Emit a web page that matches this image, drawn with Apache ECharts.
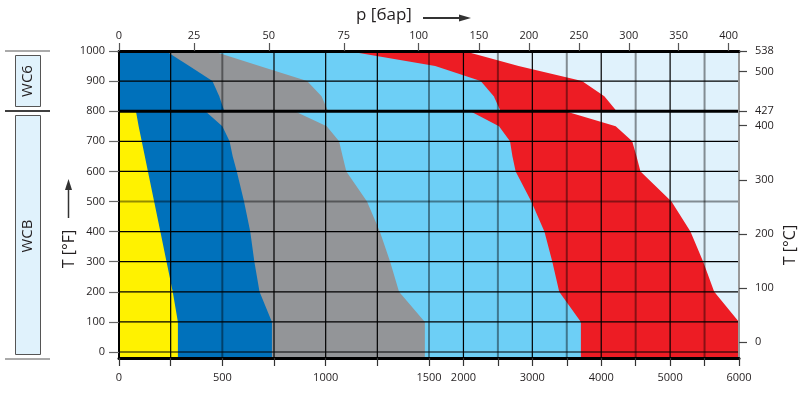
<!DOCTYPE html>
<html><head><meta charset="utf-8">
<script src="https://cdn.jsdelivr.net/npm/echarts@6/dist/echarts.min.js"></script>
<style>html,body{margin:0;padding:0;background:#fff}#c{width:809px;height:395px}</style>
</head><body><div id="c"></div>
<script>
// ---- data (pressure boundaries in psi vs temperature in °F) ----
const tWCB   = [-20, 100, 200, 300, 400, 500, 600, 650, 700, 750, 800];
const wcb150  = [285, 285, 260, 230, 200, 170, 140, 125, 110, 95, 82];
const wcb300  = [740, 740, 680, 655, 635, 605, 570, 550, 535, 500, 418];
const wcb600  = [1480, 1480, 1355, 1312, 1262, 1200, 1100, 1082, 1065, 1005, 850];
const wcb1500 = [3705, 3705, 3390, 3290, 3175, 2985, 2758, 2711, 2676, 2516, 2100];
const wcb2500 = [6000, 6000, 5640, 5480, 5295, 5020, 4570, 4512, 4450, 4210, 3480];

const tWC6   = [800, 850, 900, 950, 1000];
const wc6300  = [510, 485, 452, 340, 226];
const wc6600  = [1012, 980, 910, 680, 452];
const wc61500 = [2540, 2440, 2250, 1590, 1105];
const wc62500 = [4225, 4045, 3720, 2800, 2005];

// ---- tick labels ----
const psiLabels = [0, 500, 1000, 1500, 2000, 3000, 4000, 5000, 6000];
const psiTicks  = [0, 250, 500, 750, 1000, 1250, 1500, 2000, 2500, 3000, 3500, 4000, 4500, 5000, 5500, 6000];
const barLabels = [0, 25, 50, 75, 100, 150, 200, 250, 300, 350, 400];
const fLabels   = [0, 100, 200, 300, 400, 500, 600, 700, 800, 900, 1000];
const cLabels   = [0, 100, 200, 300, 400, 427, 500, 538];

// grid line values
const vGridBlack = [250, 750, 1000, 1250, 2000, 3000, 4000, 5000];
const vGridGray  = [500, 1500, 2500, 3500, 4500, 5500];
const hGridBlack = [0, 100, 200, 300, 400, 600, 700, 900];
const hGridGray  = [500];
const hGridThick = [800];

const T_MIN = -20, T_MAX = 1000;

// broken pressure scale: 0-1500 psi full scale, 1500-6000 psi at one third
function psiToU(p){ return p <= 1500 ? p : 1500 + (p - 1500) / 3; }
function uToPsi(u){ return u <= 1500 ? u : 1500 + (u - 1500) * 3; }
function barToU(b){ return b <= 100 ? b * 14.5 : 1500 + (b - 100) * 14.5 / 3; }
function uToBar(u){ return u <= 1500 ? u / 14.5 : 100 + (u - 1500) * 3 / 14.5; }
function cToF(c){ return Math.min(c * 1.8 + 32, T_MAX); }

const FONT = 'Open Sans';
const COL = {yellow:'#FFF200', blue:'#0071BB', gray:'#939598', lblue:'#6DCFF6', red:'#ED1C24', bg:'#E0F2FC'};

function areaSeries(temps, edge, color){
  return {
    type:'custom', coordinateSystem:'cartesian2d', xAxisIndex:0, yAxisIndex:0,
    silent:true, z:2, data:[[0, temps[0]]],
    renderItem: function(params, api){
      const pts = [api.coord([0, temps[0]])];
      for (let i = 0; i < temps.length; i++) pts.push(api.coord([psiToU(edge[i]), temps[i]]));
      pts.push(api.coord([0, temps[temps.length - 1]]));
      return {type:'polygon', shape:{points:pts}, style:{fill:color}};
    }
  };
}

const gridSeries = {
  type:'custom', coordinateSystem:'cartesian2d', xAxisIndex:0, yAxisIndex:0,
  silent:true, z:3, data:[[0, 0]],
  renderItem: function(params, api){
    const ch = [];
    const yTop = api.coord([0, T_MAX])[1], yBot = api.coord([0, T_MIN])[1];
    const xL = api.coord([0, 0])[0], xR = api.coord([psiToU(6000), 0])[0];
    vGridBlack.forEach(function(p){ const x = api.coord([psiToU(p), 0])[0];
      ch.push({type:'line', shape:{x1:x, y1:yTop, x2:x, y2:yBot}, style:{stroke:'#000', lineWidth:1.2}}); });
    vGridGray.forEach(function(p){ const x = api.coord([psiToU(p), 0])[0];
      ch.push({type:'line', shape:{x1:x, y1:yTop, x2:x, y2:yBot}, style:{stroke:'rgba(0,0,0,0.42)', lineWidth:2}}); });
    hGridBlack.forEach(function(t){ const y = api.coord([0, t])[1];
      ch.push({type:'line', shape:{x1:xL, y1:y, x2:xR, y2:y}, style:{stroke:'#000', lineWidth:1.2}}); });
    hGridGray.forEach(function(t){ const y = api.coord([0, t])[1];
      ch.push({type:'line', shape:{x1:xL, y1:y, x2:xR, y2:y}, style:{stroke:'rgba(0,0,0,0.42)', lineWidth:2}}); });
    hGridThick.forEach(function(t){ const y = api.coord([0, t])[1];
      ch.push({type:'line', shape:{x1:xL, y1:y, x2:xR, y2:y}, style:{stroke:'#000', lineWidth:3}}); });
    return {type:'group', children:ch};
  }
};

const labelStyle = {fontFamily:FONT, fontSize:11, color:'#231F20'};

const option = {
  animation:false,
  grid:{left:119, right:70, top:51, bottom:37, show:true, backgroundColor:COL.bg, borderWidth:0},
  xAxis:[
    {type:'value', position:'bottom', min:0, max:psiToU(6000), z:10,
     axisLine:{show:true, onZero:false, lineStyle:{color:'#000', width:3}},
     axisTick:{show:true, length:8, customValues:psiTicks.map(psiToU), lineStyle:{color:'#333', width:1.2}},
     axisLabel:Object.assign({customValues:psiLabels.map(psiToU), margin:14,
       formatter:function(v){ return String(Math.round(uToPsi(v))); }}, labelStyle),
     splitLine:{show:false}},
    {type:'value', position:'top', min:0, max:psiToU(6000), z:10,
     axisLine:{show:true, onZero:false, lineStyle:{color:'#000', width:3}},
     axisTick:{show:true, length:8, customValues:barLabels.map(barToU), lineStyle:{color:'#555', width:1.2}},
     axisLabel:Object.assign({customValues:barLabels.map(barToU), margin:10,
       formatter:function(v){ return String(Math.round(uToBar(v))); }}, labelStyle),
     splitLine:{show:false}}
  ],
  yAxis:[
    {type:'value', position:'left', min:T_MIN, max:T_MAX, z:10,
     axisLine:{show:true, onZero:false, lineStyle:{color:'#000', width:2}},
     axisTick:{show:true, length:10, customValues:fLabels, lineStyle:{color:'#666', width:1.2}},
     axisLabel:Object.assign({customValues:fLabels, margin:14,
       formatter:function(v){ return String(Math.round(v)); }}, labelStyle),
     splitLine:{show:false}},
    {type:'value', position:'right', min:T_MIN, max:T_MAX, z:10,
     axisLine:{show:true, onZero:false, lineStyle:{color:'#999', width:2}},
     axisTick:{show:true, length:8, customValues:cLabels.map(cToF), lineStyle:{color:'#444', width:1.2}},
     axisLabel:Object.assign({customValues:cLabels.map(cToF), margin:16,
       formatter:function(v){ return String(Math.round((v - 32) / 1.8)); }}, labelStyle),
     splitLine:{show:false}}
  ],
  series:[
    areaSeries(tWCB, wcb2500, COL.red),
    areaSeries(tWCB, wcb1500, COL.lblue),
    areaSeries(tWCB, wcb600, COL.gray),
    areaSeries(tWCB, wcb300, COL.blue),
    areaSeries(tWCB, wcb150, COL.yellow),
    areaSeries(tWC6, wc62500, COL.red),
    areaSeries(tWC6, wc61500, COL.lblue),
    areaSeries(tWC6, wc6600, COL.gray),
    areaSeries(tWC6, wc6300, COL.blue),
    gridSeries
  ],
  graphic:[
    {type:'text', left:356, top:7, style:{text:'p [бар]', font:'17px "Open Sans"', fill:'#231F20'}},
    {type:'line', shape:{x1:423, y1:18, x2:462, y2:18}, style:{stroke:'#333', lineWidth:2}},
    {type:'polygon', shape:{points:[[459,14.5],[471,18],[459,21.5]]}, style:{fill:'#333'}},
    {type:'text', x:69, y:249, rotation:Math.PI/2, style:{text:'T [°F]', font:'16px "Open Sans"', fill:'#231F20', align:'center', verticalAlign:'middle'}},
    {type:'line', shape:{x1:68.5, y1:218, x2:68.5, y2:188}, style:{stroke:'#333', lineWidth:1.5}},
    {type:'polygon', shape:{points:[[65,190],[68.5,179],[72,190]]}, style:{fill:'#333'}},
    {type:'text', x:790, y:245, rotation:Math.PI/2, style:{text:'T [°C]', font:'16px "Open Sans"', fill:'#231F20', align:'center', verticalAlign:'middle'}},
    {type:'line', shape:{x1:5, y1:51, x2:50, y2:51}, style:{stroke:'#aaa', lineWidth:2}},
    {type:'line', shape:{x1:5, y1:111, x2:50, y2:111}, style:{stroke:'#000', lineWidth:1.5}},
    {type:'line', shape:{x1:5, y1:359, x2:50, y2:359}, style:{stroke:'#aaa', lineWidth:2}},
    {type:'rect', shape:{x:15.5, y:55.5, width:25, height:51}, style:{fill:COL.bg, stroke:'#555', lineWidth:1}},
    {type:'rect', shape:{x:15.5, y:115.5, width:25, height:239}, style:{fill:COL.bg, stroke:'#555', lineWidth:1}},
    {type:'text', x:28, y:81, rotation:Math.PI/2, style:{text:'WC6', font:'15px "Open Sans"', fill:'#231F20', align:'center', verticalAlign:'middle'}},
    {type:'text', x:28, y:236, rotation:Math.PI/2, style:{text:'WCB', font:'15px "Open Sans"', fill:'#231F20', align:'center', verticalAlign:'middle'}}
  ]
};

const chart = echarts.init(document.getElementById('c'), null, {renderer:'canvas'});
chart.setOption(option);
</script></body></html>
